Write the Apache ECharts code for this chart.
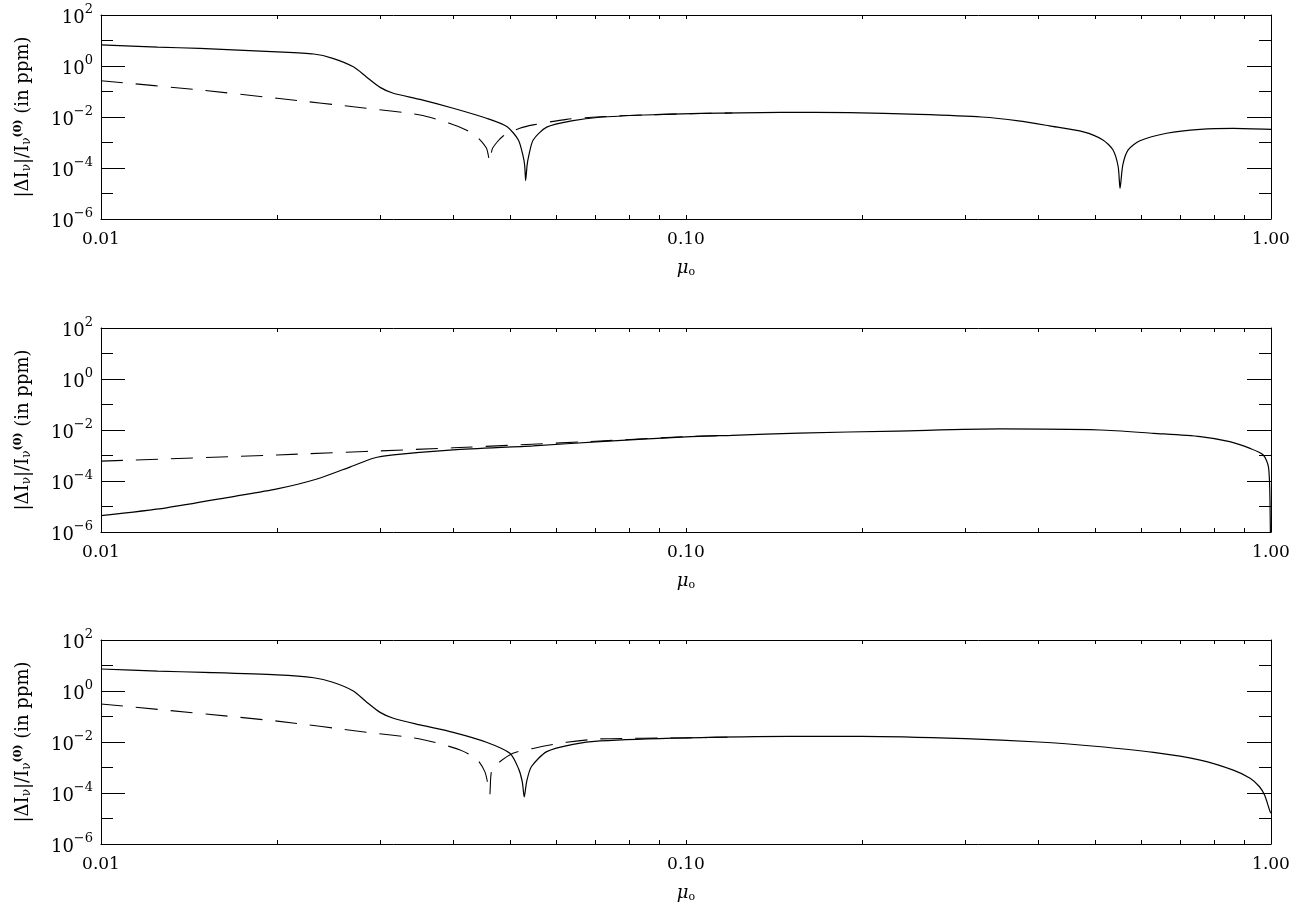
<!DOCTYPE html>
<html>
<head>
<meta charset="utf-8">
<script src="https://cdn.jsdelivr.net/npm/echarts@6/dist/echarts.min.js"></script>
<style>
html,body{margin:0;padding:0;background:#fff;}
#chart{width:1298px;height:907px;}
</style>
</head>
<body>
<div id="chart"></div>
<script>
// ---- Data ----
// Panel 1
const mu1Solid = [0.010,0.0125,0.01475,0.020,0.0231,0.0249,0.027,0.0284,0.030,0.0316,0.0351,0.040,0.0456,0.0494,0.0517,0.0527,0.0530,0.0532,0.0535,0.0538,0.0548,0.0578,0.0641,0.0713,0.085,0.106,0.145,0.19,0.25,0.32,0.37,0.418,0.478,0.516,0.537,0.548,0.552,0.558,0.570,0.597,0.663,0.757,0.862,1.0];
const val1Solid = [6.7,5.5,4.9,3.6,2.95,2.0,0.93,0.38,0.145,0.085,0.049,0.022,0.0089,0.0042,0.00126,0.000275,0.000126,0.000032,0.000126,0.000275,0.00126,0.0040,0.0072,0.0098,0.012,0.0138,0.0151,0.0148,0.0126,0.0100,0.0071,0.0045,0.0026,0.00126,0.00051,0.000112,0.000016,0.00013,0.00051,0.00117,0.0023,0.0033,0.0036,0.0033];
const mu1Dash = [0.010,0.01475,0.020,0.0284,0.0351,0.0395,0.0421,0.0439,0.0456,0.0462,0.0467,0.0487,0.0520,0.0548,0.0625,0.0713,0.085,0.106,0.12];
const val1Dash = [0.265,0.115,0.054,0.022,0.012,0.0056,0.0031,0.0017,0.00059,0.00018,0.00059,0.0018,0.0036,0.0049,0.0081,0.0102,0.0121,0.0138,0.0143];
// Panel 2
const mu2Solid = [0.010,0.01294,0.01682,0.020,0.0234,0.0267,0.0292,0.0316,0.040,0.0548,0.0713,0.10,0.12,0.156,0.23,0.345,0.51,0.63,0.757,0.85,0.921,0.970,0.990,0.996,0.9995];
const val2Solid = [4.4e-6,8.9e-6,2.45e-5,4.9e-5,1.2e-4,3.6e-4,7.8e-4,1.05e-3,1.66e-3,2.4e-3,3.5e-3,5.4e-3,6.2e-3,7.6e-3,9.1e-3,0.011,0.010,7.4e-3,5.5e-3,3.5e-3,1.9e-3,1.05e-3,3.6e-4,1.8e-5,1e-8];
const mu2Dash = [0.010,0.020,0.040,0.0713,0.10,0.12];
const val2Dash = [6.0e-4,1.05e-3,2.0e-3,3.7e-3,5.5e-3,6.2e-3];
// Panel 3
const mu3Solid = [0.010,0.0125,0.015,0.020,0.0231,0.0249,0.027,0.0284,0.030,0.0316,0.0351,0.040,0.0456,0.050,0.0517,0.0525,0.0529,0.0534,0.0544,0.0578,0.0641,0.0713,0.10,0.15,0.20,0.30,0.40,0.50,0.63,0.757,0.862,0.921,0.955,0.975,0.996,1.0];
const val3Solid = [7.3,6.0,5.4,4.3,3.3,2.2,1.0,0.38,0.145,0.085,0.047,0.024,0.0098,0.0036,0.00093,0.000275,0.00007,0.000275,0.00107,0.0042,0.0081,0.011,0.0145,0.0166,0.0166,0.0135,0.010,0.0068,0.0039,0.00195,0.00079,0.00038,0.00018,0.000083,0.000019,0.000016];
const mu3Dash = [0.010,0.020,0.0284,0.0351,0.0411,0.0439,0.0453,0.0459,0.0462,0.0465,0.0477,0.0506,0.0548,0.0625,0.0713,0.10,0.12];
const val3Dash = [0.31,0.066,0.024,0.0132,0.0049,0.0021,0.00069,0.00020,0.000089,0.00069,0.00145,0.0036,0.0056,0.0098,0.0132,0.0145,0.0155];

// Tick labels / positions
const xLabelValues = [0.01, 0.1, 1];
const xTickValues = [0.01,0.02,0.03,0.04,0.05,0.06,0.07,0.08,0.09,0.1,0.2,0.3,0.4,0.5,0.6,0.7,0.8,0.9,1];
const yMin = 1e-6, yMax = 1e2;

const panels = [
  {solid:[mu1Solid,val1Solid], dash:[mu1Dash,val1Dash]},
  {solid:[mu2Solid,val2Solid], dash:[mu2Dash,val2Dash]},
  {solid:[mu3Solid,val3Solid], dash:[mu3Dash,val3Dash]}
];
const tops = [15, 328, 640];

const FONT = 'DejaVu Serif';
const pairs = (m, v) => m.map((x, k) => [x, v[k]]);

const grids = [], xAxes = [], yAxes = [], series = [];
panels.forEach((p, i) => {
  grids.push({left: 101, width: 1170, top: tops[i], height: 204});
  const baseX = {
    type: 'log', logBase: 10, min: 0.01, max: 1, gridIndex: i,
    axisLine: {show: true, lineStyle: {color: '#000', width: 1}},
    axisTick: {show: true, inside: true, length: 4, customValues: xTickValues, lineStyle: {color: '#000'}},
    splitLine: {show: false}, minorTick: {show: false}
  };
  xAxes.push(Object.assign({}, baseX, {
    position: 'bottom',
    axisLabel: {show: true, customValues: xLabelValues, formatter: v => Number(v).toFixed(2),
      fontFamily: FONT, fontSize: 17, color: '#000', margin: 12},
    name: '{m|μ}{s|o}', nameLocation: 'middle', nameGap: 40,
    nameTextStyle: {rich: {
      m: {fontFamily: FONT, fontSize: 18, color: '#000', fontStyle: 'italic'},
      s: {fontFamily: FONT, fontSize: 11, color: '#000', padding: [8, 0, 0, 0]}
    }}
  }));
  xAxes.push(Object.assign({}, baseX, {position: 'top', axisLabel: {show: false}}));

  const baseY = {
    type: 'log', logBase: 10, min: yMin, max: yMax, gridIndex: i,
    splitLine: {show: false}, minorTick: {show: false}
  };
  yAxes.push(Object.assign({}, baseY, {
    position: 'left', interval: 2,
    axisLine: {show: true, lineStyle: {color: '#000', width: 1}},
    axisTick: {show: true, inside: true, length: 24, lineStyle: {color: '#000'}},
    axisLabel: {show: true, margin: 8, showMinLabel: true, showMaxLabel: true,
      formatter: v => {
        const e = Math.round(Math.log10(v));
        return '{b|10}{s|' + (e < 0 ? '\u2212' + (-e) : e) + '}';
      },
      rich: {
        b: {fontFamily: FONT, fontSize: 18, color: '#000', lineHeight: 24, verticalAlign: 'bottom'},
        s: {fontFamily: FONT, fontSize: 13, color: '#000', lineHeight: 24, verticalAlign: 'top'}
      }
    },
    name: '{t|\u007C\u0394I}{b|\u03BD}{t|\u007C/I}{b|\u03BD}{p|(0)}{t| (in ppm)}',
    nameLocation: 'middle', nameGap: 68, nameRotate: 90,
    nameTextStyle: {rich: {
      t: {fontFamily: FONT, fontSize: 18, color: '#000'},
      b: {fontFamily: FONT, fontSize: 12, color: '#000', padding: [7, 0, 0, 0]},
      p: {fontFamily: FONT, fontSize: 11, color: '#000', fontWeight: 'bold', padding: [0, 0, 9, 0]}
    }}
  }));
  yAxes.push(Object.assign({}, baseY, {
    position: 'left', interval: 1,
    axisLine: {show: false},
    axisTick: {show: true, inside: true, length: 12, lineStyle: {color: '#000'}},
    axisLabel: {show: false}
  }));
  yAxes.push(Object.assign({}, baseY, {
    position: 'right', interval: 2,
    axisLine: {show: true, lineStyle: {color: '#000', width: 1}},
    axisTick: {show: true, inside: true, length: 24, lineStyle: {color: '#000'}},
    axisLabel: {show: false}
  }));
  yAxes.push(Object.assign({}, baseY, {
    position: 'right', interval: 1,
    axisLine: {show: false},
    axisTick: {show: true, inside: true, length: 12, lineStyle: {color: '#000'}},
    axisLabel: {show: false}
  }));

  series.push({
    type: 'line', xAxisIndex: 2 * i, yAxisIndex: 4 * i, showSymbol: false, symbol: 'none',
    data: pairs(p.dash[0], p.dash[1]), z: 2, clip: true, smooth: 0.25,
    lineStyle: {color: '#000', width: 1.1, type: [22, 13]}
  });
  series.push({
    type: 'line', xAxisIndex: 2 * i, yAxisIndex: 4 * i, showSymbol: false, symbol: 'none',
    data: pairs(p.solid[0], p.solid[1]), z: 3, clip: true, smooth: 0.25,
    lineStyle: {color: '#000', width: 1.2, type: 'solid'}
  });
});

const chart = echarts.init(document.getElementById('chart'), null, {renderer: 'canvas'});
chart.setOption({
  animation: false,
  backgroundColor: '#fff',
  grid: grids,
  xAxis: xAxes,
  yAxis: yAxes,
  series: series
});
</script>
</body>
</html>
